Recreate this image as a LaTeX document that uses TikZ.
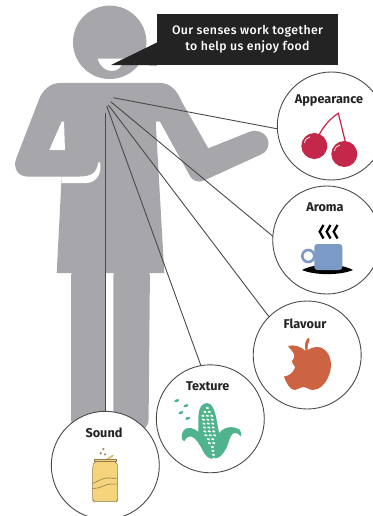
\documentclass[tikz,border=0pt]{standalone}
\usepackage{fontspec}
\setmainfont{Fira Sans}
\newfontfamily\bubblefont[LetterSpace=3]{Fira Sans Medium}
\usetikzlibrary{positioning,calc}
\definecolor{Figure}{HTML}{A6A6AB}
\definecolor{Bubble}{HTML}{232323}
\definecolor{Rim}{HTML}{4A4A4A}
\definecolor{Cherry}{HTML}{C4274A}
\definecolor{Cup}{HTML}{7B9BC6}
\definecolor{Apple}{HTML}{CC6443}
\definecolor{Corn}{HTML}{4FB48E}
\definecolor{Can}{HTML}{F5D47C}
\definecolor{CanLine}{HTML}{8F7C4A}

\begin{document}
\begin{tikzpicture}[x=1pt,y=-1pt,every node/.style={text=Bubble},sense/.style={circle,draw=Rim,line width=0.9pt,fill=white,minimum size=108pt,inner sep=0pt,outer sep=0pt},senselabel/.style={font=\bfseries\fontsize{12.7}{14}\selectfont,inner sep=0pt},ray/.style={draw=Rim,line width=0.9pt}]
\useasboundingbox (0,0) rectangle (372,516);
\fill[white] (0,0) rectangle (372,516);
\fill[Figure,rounded corners=11pt] (71,265) -- (105.5,265) -- (105.5,431) -- (71,431) -- cycle;
\fill[Figure,rounded corners=11pt] (113.3,265) -- (150,265) -- (148.5,431) -- (113.3,431) -- cycle;
\fill[white] (105.5,273) rectangle (113.3,300);
\fill[Figure] (61.7,176) -- (56.7,273) -- (164.3,273) -- (155.7,121.7) -- (100,121.7) -- cycle;
\fill[Figure] (60,83) -- (160,83) .. controls (170,83) and (177,90) .. (181.7,101.7) -- (208.3,148.3) -- (248.3,132.3) .. controls (258,128) and (268,134) .. (268.5,143) .. controls (268.5,148) and (266,152) .. (262,154) -- (204,180.5) .. controls (198,183) and (193,181) .. (190,176) -- (160,121.7) -- (155.7,121.7) -- (155.7,180) -- (80,180) -- (80,176.5) -- (27,176.5) .. controls (18,176.5) and (13,168) .. (16,159) -- (40,97) .. controls (44,89) and (51,83) .. (60,83) -- cycle;
\fill[white] (61.7,121.7) -- (64,121.7) -- (65,150) -- (49.3,150) -- cycle;
\fill[white] (100,162) .. controls (102,172) and (98,183) .. (85,183.2) -- (61.5,183.2) -- (61.5,176.5) -- (80,176.5) .. controls (92,176.5) and (97,172) .. (98,163) -- cycle;
\fill[Figure] (109.7,42.3) circle[radius=36.7];
\fill[white] (97.7,58.7) .. controls (100,67) and (106,71) .. (112,71) .. controls (118,71) and (122,67) .. (124,58.7) -- cycle;
\node[fill=Bubble,minimum width=181pt,minimum height=51pt,inner sep=0pt,align=center,text=white,font=\bubblefont\fontsize{12.3}{16}\selectfont] (bubble) at (247.5,39.6) {Our senses work together\\to help us enjoy food};
\coordinate (mouthtip) at (111,65);
\fill[Bubble] ($(bubble.west)+(0,3)$) -- (mouthtip) -- (bubble.south west) -- cycle;
\coordinate (chesta) at (113.3,97.7);
\coordinate (chestb) at (110.7,101.7);
\coordinate (chestc) at (108.3,105);
\coordinate (chestd) at (106.7,106);
\coordinate (cheste) at (105.3,112.7);
\node[sense] (appearance) at (331.3,126) {};
\node[sense] (aroma) at (326.7,240) {};
\node[sense] (flavour) at (307.2,355) {};
\node[sense] (texture) at (210.3,418.8) {};
\node[sense] (sound) at (105.3,465.3) {};
\draw[ray] (chesta) -- (appearance.183.5);
\draw[ray] (chestb) -- (aroma.176.5);
\draw[ray] (chestc) -- (flavour.135);
\draw[ray] (chestd) -- (texture.100);
\draw[ray] (cheste) -- (sound.90);
\node[senselabel] (appearancelabel) at (329,101) {Appearance};
\node[senselabel] (aromalabel) at (325,207.5) {Aroma};
\node[senselabel] (flavourlabel) at (305,323.5) {Flavour};
\node[senselabel] (texturelabel) at (207.7,386.7) {Texture};
\node[senselabel] (soundlabel) at (104,432.7) {Sound};
\draw[Cherry,line width=1.2pt] (318.3,136.7) .. controls (323,126) and (331,118) .. (338.3,113.3) -- (345.7,143.3);
\fill[Cherry] (314.3,146) circle[radius=13];
\fill[Cherry] (344.3,154) circle[radius=13];
\draw[white,line width=0.7pt] (304.5,143) .. controls (305,139.5) and (307,137.5) .. (310,137);
\draw[white,line width=0.7pt] (334.5,151) .. controls (335,147.5) and (337,145.5) .. (340,145);
\draw[Cup,line width=2.6pt] (308.3,256) circle[radius=6];
\fill[black] (302,270) .. controls (315,263) and (340,263) .. (353,270) .. controls (340,275.5) and (315,275.5) .. (302,270) -- cycle;
\fill[Cup,rounded corners=3pt] (314.3,244) -- (342.3,244) -- (342.3,270) -- (314.3,270) -- cycle;
\foreach \steamx in {0,7,14}
\draw[black,line width=2.3pt] (323.5+\steamx,225) -- (319.7+\steamx,231.7) -- (323.5+\steamx,238.5);
\fill[Apple] (307.5,338.5) .. controls (309,337) and (310.5,338) .. (309.5,340) .. controls (308,343) and (307.5,346) .. (307.5,350) .. controls (312,347) and (320,345) .. (325,350) .. controls (332,356) and (332,368) .. (329,375) .. controls (326,384) and (319,390) .. (313,390) .. controls (309,390) and (307,387) .. (304,387) .. controls (300,387) and (298,390) .. (295,390) .. controls (290,390) and (286,383) .. (284,376.5) .. controls (288,376) and (293,374) .. (295,367) .. controls (294,364) and (291,363) .. (292,361) .. controls (295,358) and (295,354) .. (292,351) .. controls (291,349) and (288,347) .. (288,346) .. controls (294,344) and (302,347) .. (305.5,351) .. controls (304.5,346) and (305,341) .. (307.5,338.5) -- cycle;
\fill[Corn] (181.7,438.3) .. controls (181,432) and (185,427.5) .. (189,428) .. controls (193,428) and (196,430) .. (198.3,431.7) -- (198.5,415) .. controls (199,408) and (202,403) .. (207,403) .. controls (212,403) and (215,410) .. (217,422) -- (219,433) .. controls (224,427) and (233,425) .. (240,430) .. controls (241,432) and (241.5,434) .. (241,436.7) .. controls (238,433) and (235,432) .. (233,433.5) .. controls (230,436) and (229,441) .. (228,444) .. controls (225,452) and (220,459) .. (213.3,459) .. controls (208,459) and (205,455) .. (203,451) .. controls (200,445) and (196,438) .. (191.7,436.7) .. controls (188,436) and (186,438) .. (184.5,441) .. controls (183,441) and (182,440) .. (181.7,438.3) -- cycle;
\foreach \rowy/\colx/\cols in {0/203/1,1/200.5/2,2/198.5/3,3/199/3,4/199.5/3,5/200/3,6/200.5/3,7/201.5/3,8/204/2,9/205/2,10/208/1,11/208.5/1,12/209/1,13/209.5/1}
\foreach \col in {1,...,\cols}
\fill[white,rotate around={-15:(\colx+\col*4.4,408+\rowy*3.9)}] (\colx+\col*4.4-1.3,408+\rowy*3.9-0.8) rectangle (\colx+\col*4.4+1.3,408+\rowy*3.9+0.8);
\foreach \kernelx/\kernely in {176.7/400.7,186/405.7,181/412.7,187.7/418.3}
\fill[Corn,rotate around={20:(\kernelx,\kernely)}] (\kernelx,\kernely) ellipse[x radius=2.5,y radius=1.4];
\draw[Can!70!CanLine,line width=1.6pt,line cap=round] (107.5,459) -- (113,455.5);
\foreach \fizzx/\fizzy in {103.3/449,100.7/453.3,105/454.3}
\fill[CanLine!85!white] (\fizzx,\fizzy) circle[radius=1.3];
\draw[CanLine,line width=0.5pt,fill=Can,rounded corners=2pt] (94,461.7) -- (92.7,466) -- (92.7,500) -- (94,501.7) -- (116.5,501.7) -- (117.7,500) -- (117.7,466) -- (116.5,461.7) -- cycle;
\draw[CanLine,line width=0.5pt,fill=Can] (94,459.3) rectangle (116.7,461.7);
\draw[CanLine,line width=0.6pt] (92.7,483.5) .. controls (100,480) and (105,477) .. (110,478) .. controls (113,478.5) and (115,478.5) .. (117.7,478);
\draw[CanLine,line width=0.6pt] (92.7,488.5) .. controls (100,489) and (105,484) .. (110,484) .. controls (113,484) and (115,484.5) .. (117.7,484);
\end{tikzpicture}
\end{document}
